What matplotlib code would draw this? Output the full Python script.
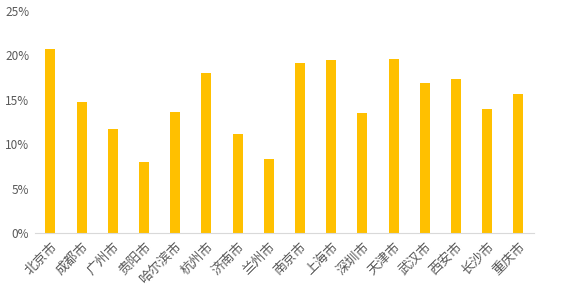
import matplotlib
matplotlib.use("Agg")
import matplotlib.pyplot as plt
from matplotlib.ticker import FuncFormatter

plt.rcParams['font.family'] = ['Noto Sans CJK SC', 'DejaVu Sans']

cities = ['北京市', '成都市', '广州市', '贵阳市', '哈尔滨市', '杭州市', '济南市', '兰州市',
          '南京市', '上海市', '深圳市', '天津市', '武汉市', '西安市', '长沙市', '重庆市']
rates = [20.7, 14.75, 11.7, 8.0, 13.6, 18.0, 11.15, 8.33,
         19.1, 19.5, 13.5, 19.6, 16.9, 17.3, 14.0, 15.65]
yticks = [0, 5, 10, 15, 20, 25]

fig = plt.figure(figsize=(5.61, 3.08), dpi=100)
ax = fig.add_axes([0.062, 0.2435, 0.89, 0.7205])

x = list(range(len(cities)))
ax.bar(x, rates, width=0.32, color='#FFC000')

ax.set_xlim(-0.5, len(cities) - 0.5)
ax.set_ylim(0, 25)
ax.set_yticks(yticks)
ax.yaxis.set_major_formatter(FuncFormatter(lambda v, p: '%d%%' % v))
ax.set_xticks(x)
ax.set_xticklabels(cities, rotation=45, ha='right', rotation_mode='anchor')

for s in ['top', 'right', 'left']:
    ax.spines[s].set_visible(False)
ax.spines['bottom'].set_color('#d9d9d9')
ax.tick_params(axis='both', length=0, colors='#595959')
ax.tick_params(axis='y', labelsize=8.5, pad=4)
ax.tick_params(axis='x', labelsize=9.5, pad=5)

fig.savefig('out.png', dpi=100)
